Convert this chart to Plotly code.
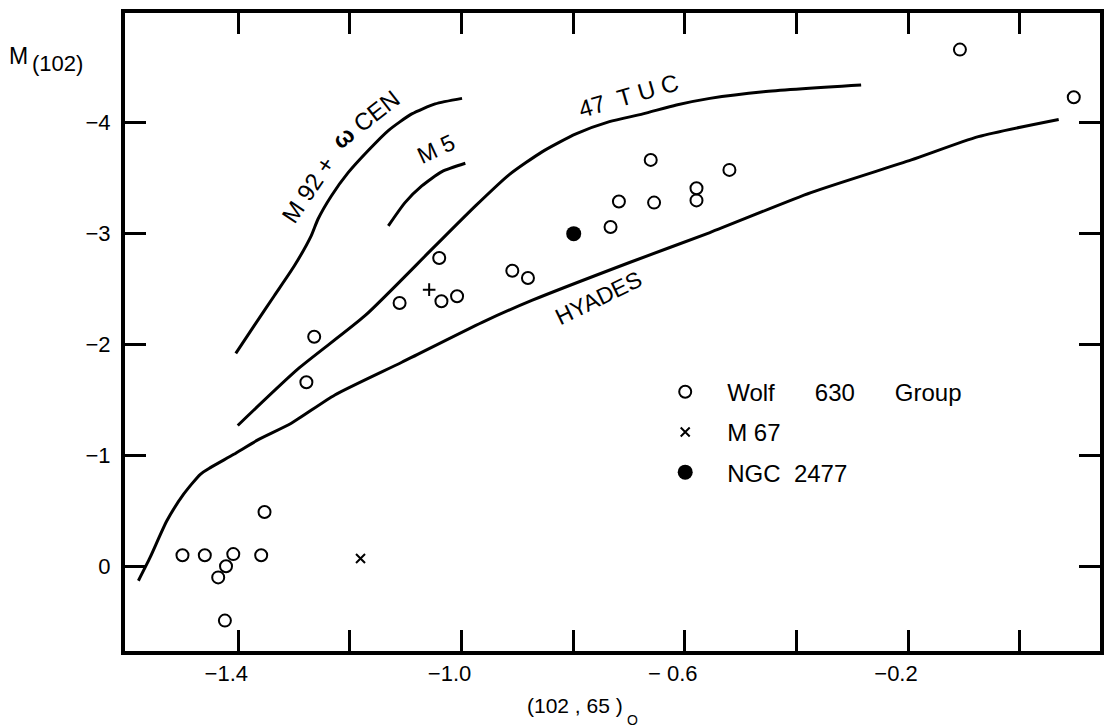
import plotly.graph_objects as go

# ---------------- data ----------------
wolf_x = [-1.500, -1.460, -1.409, -1.422, -1.436, -1.424, -1.359, -1.353, -1.278, -1.264,
          -1.111, -1.040, -1.036, -1.008, -0.909, -0.881, -0.733, -0.718, -0.661, -0.655,
          -0.579, -0.579, -0.520, -0.107, 0.097]
wolf_y = [-0.10, -0.10, -0.11, 0.00, 0.10, 0.49, -0.10, -0.49, -1.66, -2.07,
          -2.375, -2.78, -2.39, -2.435, -2.665, -2.60, -3.06, -3.29, -3.665, -3.28,
          -3.41, -3.30, -3.575, -4.66, -4.23]

m67_x = [-1.181, -1.058]
m67_y = [-0.07, -2.495]

ngc_x = [-0.799]
ngc_y = [-3.00]

m92_x = [-1.4045, -1.3715, -1.3355, -1.2995, -1.2694, -1.2573, -1.2333, -1.2032,
         -1.1672, -1.1312, -1.0892, -1.0472, -0.9991]
m92_y = [-1.92, -2.17, -2.44, -2.71, -2.98, -3.13, -3.34, -3.55,
         -3.75, -3.93, -4.08, -4.17, -4.22]

m5_x = [-1.1312, -1.1013, -1.0712, -1.0351, -0.9932]
m5_y = [-3.07, -3.28, -3.43, -3.56, -3.635]

tuc_x = [-1.401, -1.293, -1.173, -1.053, -0.975, -0.915, -0.855, -0.795, -0.735,
         -0.675, -0.615, -0.555, -0.459, -0.284]
tuc_y = [-1.27, -1.78, -2.26, -2.86, -3.25, -3.53, -3.74, -3.90, -4.01,
         -4.08, -4.16, -4.22, -4.28, -4.34]

hya_x = [-1.579, -1.558, -1.528, -1.498, -1.468, -1.450, -1.408, -1.365, -1.305,
         -1.227, -1.107, -0.963, -0.873, -0.699, -0.555, -0.374, -0.194, -0.074, 0.070]
hya_y = [0.13, -0.08, -0.41, -0.65, -0.83, -0.89, -1.01, -1.14, -1.29,
         -1.545, -1.84, -2.20, -2.40, -2.74, -3.01, -3.37, -3.665, -3.875, -4.03]

x_ticks = [-1.4, -1.2, -1.0, -0.8, -0.6, -0.4, -0.2, 0.0]
x_ticktext = ["\u22121.4", "", "\u22121.0", "", "\u2212 0.6", "", "\u22120.2", ""]
y_ticks = [-4, -3, -2, -1, 0]
y_ticktext = ["\u22124", "\u22123", "\u22122", "\u22121", "0"]

FONT = "Liberation Sans, Arial, Helvetica, sans-serif"
NB = "\u00a0"

fig = go.Figure()

curve_line = dict(color="black", width=3, shape="spline", smoothing=0.6)
for cx, cy in [(m92_x, m92_y), (m5_x, m5_y), (tuc_x, tuc_y), (hya_x, hya_y)]:
    fig.add_trace(go.Scatter(x=cx, y=cy, mode="lines", line=curve_line,
                             showlegend=False, hoverinfo="skip"))

fig.add_trace(go.Scatter(
    x=wolf_x, y=wolf_y, mode="markers",
    name="Wolf" + NB * 6 + "630" + NB * 6 + "Group",
    legendgroup="a",
    marker=dict(symbol="circle-open", size=12, color="black", line=dict(width=2, color="black"))))
fig.add_trace(go.Scatter(
    x=m67_x, y=m67_y, mode="markers",
    name="M 67", legendgroup="b",
    marker=dict(symbol=["x-thin-open", "cross-thin-open"], size=9, color="black",
                line=dict(width=2, color="black"))))
fig.add_trace(go.Scatter(
    x=ngc_x, y=ngc_y, mode="markers",
    name="NGC" + NB * 2 + "2477", legendgroup="c",
    marker=dict(symbol="circle", size=15, color="black")))

annos = [
    dict(text="M" + NB + "92" + NB + "+", x=-1.275, y=-3.40, textangle=-56, size=24),
    dict(text="<b>\u03c9</b>" + NB + "CEN", x=-1.172, y=-4.03, textangle=-38, size=24),
    dict(text="M" + NB + "5", x=-1.046, y=-3.76, textangle=-25, size=23),
    dict(text="47" + NB * 2 + "T" + NB + "U" + NB + "C", x=-0.70, y=-4.25, textangle=-16, size=24),
    dict(text="HYADES", x=-0.755, y=-2.42, textangle=-26, size=23),
]
for a in annos:
    fig.add_annotation(x=a["x"], y=a["y"], xref="x", yref="y", text=a["text"],
                       textangle=a["textangle"], showarrow=False,
                       font=dict(family=FONT, size=a["size"], color="black"))

# axis titles
fig.add_annotation(text="M", xref="paper", yref="paper", x=-0.121, y=0.932,
                   xanchor="left", yanchor="middle", showarrow=False,
                   font=dict(family=FONT, size=23, color="black"))
fig.add_annotation(text="(102)", xref="paper", yref="paper", x=-0.0974, y=0.921,
                   xanchor="left", yanchor="middle", showarrow=False,
                   font=dict(family=FONT, size=22, color="black"))
fig.add_annotation(text="(102" + NB + "," + NB + "65" + NB + ")", xref="paper", yref="paper",
                   x=0.4615, y=-0.0857, xanchor="center", yanchor="middle", showarrow=False,
                   font=dict(family=FONT, size=21, color="black"))
fig.add_annotation(text="O", xref="paper", yref="paper", x=0.521, y=-0.108,
                   xanchor="center", yanchor="middle", showarrow=False,
                   font=dict(family=FONT, size=14, color="black"))

fig.update_layout(
    width=1113, height=727,
    margin=dict(l=117, r=21, t=1, b=84),
    paper_bgcolor="white", plot_bgcolor="white",
    font=dict(family=FONT, color="black"),
    legend=dict(x=0.5315, y=0.441, xanchor="left", yanchor="top",
                font=dict(family=FONT, size=24, color="black"),
                bgcolor="rgba(0,0,0,0)", itemwidth=74,
                traceorder="grouped", tracegroupgap=6),
    xaxis=dict(range=[-1.603, 0.144], tickmode="array", tickvals=x_ticks, ticktext=x_ticktext,
               ticks="inside", ticklen=21, tickwidth=3, tickcolor="black",
               showline=True, linewidth=4, linecolor="black", mirror="ticks",
               showgrid=False, zeroline=False,
               tickfont=dict(family=FONT, size=22, color="black"),
               ticklabelstandoff=0, ticklabelshift=-12),
    yaxis=dict(range=[0.764, -4.99], tickmode="array", tickvals=y_ticks, ticktext=y_ticktext,
               ticks="inside", ticklen=21, tickwidth=3, tickcolor="black",
               showline=True, linewidth=4, linecolor="black", mirror="ticks",
               showgrid=False, zeroline=False,
               tickfont=dict(family=FONT, size=22, color="black"),
               ticklabelstandoff=6),
)

fig.write_html("out.html")
